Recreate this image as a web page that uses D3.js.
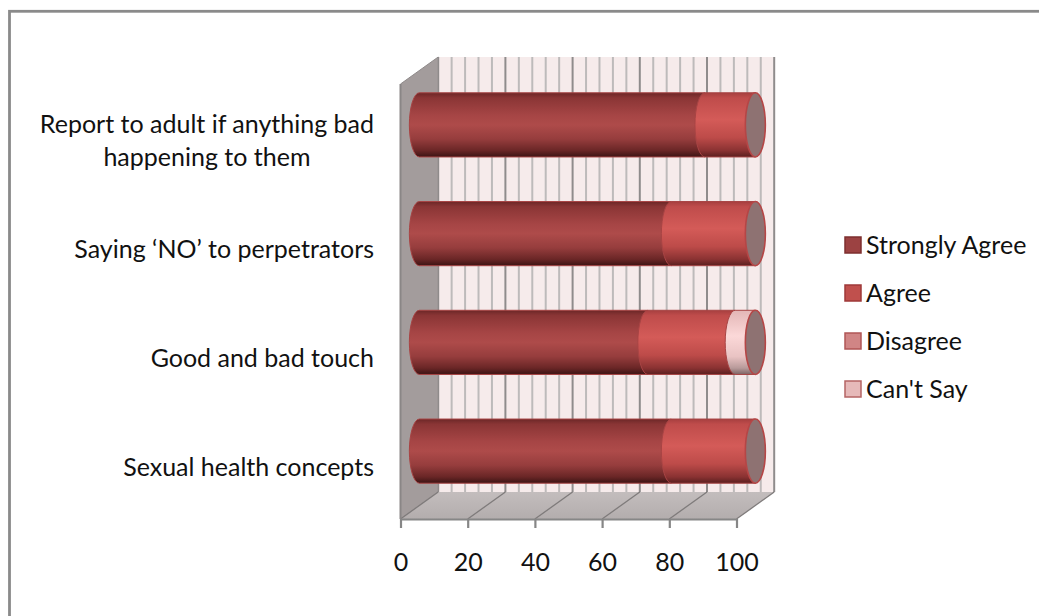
<!DOCTYPE html>
<html>
<head>
<meta charset="utf-8">
<script src="https://cdn.jsdelivr.net/npm/d3@7"></script>
<style>
  body { margin: 0; background: #fff; }
  svg { display: block; }
  text { font-family: Lato, "Open Sans", sans-serif; fill: #111; }
</style>
</head>
<body>
<svg id="chart" width="1039" height="616"></svg>
<script>
// Survey responses (percent of respondents) per topic
const categories = [
  "Report to adult if anything bad happening to them",
  "Saying ‘NO’ to perpetrators",
  "Good and bad touch",
  "Sexual health concepts"
];
const stronglyAgree = [85, 75, 68, 75];
const agree         = [15, 25, 26, 25];
const disagree      = [0, 0, 0, 0];
const cantSay       = [0, 0, 6, 0];
const seriesNames   = ["Strongly Agree", "Agree", "Disagree", "Can't Say"];
const tickValues    = [0, 20, 40, 60, 80, 100];

const series = [stronglyAgree, agree, disagree, cantSay];

// colour ramps for the cylinder sides (top edge -> bottom edge)
const sideStops = [
  [[0, "#6c2727"], [0.08, "#8a3535"], [0.35, "#a64545"], [0.5, "#ae4b4a"], [0.72, "#963d3d"], [0.9, "#6a2626"], [1, "#3c1414"]],
  [[0, "#a63f3f"], [0.08, "#bf4c4b"], [0.42, "#d45b58"], [0.7, "#bd4b49"], [0.9, "#8a3232"], [1, "#5a1f1f"]],
  [[0, "#c77c7c"], [0.4, "#e59c9c"], [0.75, "#c98080"], [1, "#7a4a4a"]],
  [[0, "#e3b6b6"], [0.4, "#fbd8d8"], [0.72, "#e9c3c3"], [0.9, "#b89a9a"], [1, "#7c6464"]]
];
const legendFill   = ["#9c4242", "#c0504d", "#d08585", "#e6b9b9"];
const legendStroke = ["#7e2f2f", "#9e3838", "#b05555", "#b56464"];

const svg = d3.select("#chart");
const defs = svg.append("defs");
sideStops.forEach((stops, i) => {
  const g = defs.append("linearGradient")
    .attr("id", "side" + i)
    .attr("x1", 0).attr("y1", 0).attr("x2", 0).attr("y2", 1);
  stops.forEach(([o, c]) => g.append("stop").attr("offset", o).attr("stop-color", c));
});
const floorGrad = defs.append("linearGradient")
  .attr("id", "floorGrad").attr("x1", 0).attr("y1", 0).attr("x2", 0).attr("y2", 1);
floorGrad.append("stop").attr("offset", 0).attr("stop-color", "#c3bdbd");
floorGrad.append("stop").attr("offset", 1).attr("stop-color", "#b3adad");

// outer frame
svg.append("rect")
  .attr("x", 9.5).attr("y", 11.3).attr("width", 1100).attr("height", 700)
  .attr("fill", "none").attr("stroke", "#8a8a8a").attr("stroke-width", 2.8);

// scales: front plane of the 3-D box, plus the depth offset of the back wall
const x = d3.scaleLinear().domain([0, 100]).range([400.5, 736.5]);
const y = d3.scaleBand().domain(categories).range([84, 519])
  .paddingInner(0.41).paddingOuter(0.205);
const depth = { dx: 37.7, dy: -27 };

const front = { x0: x(0), x1: x(100), y0: y.range()[0], y1: y.range()[1] };
const back  = { x0: front.x0 + depth.dx, x1: front.x1 + depth.dx,
                y0: front.y0 + depth.dy, y1: front.y1 + depth.dy };

// back wall
svg.append("rect")
  .attr("x", back.x0).attr("y", back.y0)
  .attr("width", back.x1 - back.x0).attr("height", back.y1 - back.y0)
  .attr("fill", "#f6ebeb");

// vertical gridlines on the back wall
const minorTicks = d3.range(0, 101, 4);
svg.append("g").selectAll("line.minor")
  .data(minorTicks.filter(v => v % 20 !== 0))
  .join("line")
  .attr("x1", d => x(d) + depth.dx).attr("x2", d => x(d) + depth.dx)
  .attr("y1", back.y0).attr("y2", back.y1)
  .attr("stroke", "#bdbaba").attr("stroke-width", 2);
svg.append("g").selectAll("line.major")
  .data(tickValues)
  .join("line")
  .attr("x1", d => x(d) + depth.dx).attr("x2", d => x(d) + depth.dx)
  .attr("y1", back.y0).attr("y2", back.y1)
  .attr("stroke", "#8f8c8c").attr("stroke-width", 2);

// left side wall
svg.append("polygon")
  .attr("points", [[front.x0, front.y0], [back.x0, back.y0], [back.x0, back.y1], [front.x0, front.y1]].join(" "))
  .attr("fill", "#a39c9c").attr("stroke", "#8f8a8a").attr("stroke-width", 1);

// floor
svg.append("polygon")
  .attr("points", [[front.x0, front.y1], [back.x0, back.y1], [back.x1, back.y1], [front.x1, front.y1]].join(" "))
  .attr("fill", "url(#floorGrad)");
svg.append("g").selectAll("line")
  .data(tickValues)
  .join("line")
  .attr("x1", d => x(d)).attr("y1", front.y1)
  .attr("x2", d => x(d) + depth.dx).attr("y2", back.y1)
  .attr("stroke", "#7f7b7b").attr("stroke-width", 1.3);

// front-left vertical edge of the box
svg.append("line")
  .attr("x1", front.x0).attr("x2", front.x0)
  .attr("y1", front.y0).attr("y2", front.y1)
  .attr("stroke", "#8a8686").attr("stroke-width", 2);

// value axis along the front edge of the floor
const axis = d3.axisBottom(x).tickValues(tickValues).tickSize(9).tickSizeOuter(0).tickPadding(25);
const gAxis = svg.append("g").attr("transform", `translate(0,${front.y1})`).call(axis);
gAxis.select(".domain").attr("stroke", "#868686").attr("stroke-width", 2.2);
gAxis.selectAll(".tick line").attr("stroke", "#868686").attr("stroke-width", 2.2);
gAxis.selectAll(".tick text")
  .attr("font-family", "Lato, 'Open Sans', sans-serif")
  .attr("font-size", 25).attr("fill", "#111");

// cylinders, placed midway between front and back planes
const mx = v => x(v) + depth.dx / 2;
const rx = 10;
const gBars = svg.append("g");
categories.forEach((cat, ci) => {
  const top = y(cat) + depth.dy / 2;
  const bot = top + y.bandwidth();
  const ry = (bot - top) / 2;
  let acc = 0;
  series.forEach((vals, si) => {
    const v = vals[ci];
    if (!v) return;
    const a = mx(acc), b = mx(acc + v);
    acc += v;
    const p = d3.path();
    p.moveTo(a, top);
    p.lineTo(b, top);
    p.lineTo(b, bot);
    p.lineTo(a, bot);
    gBars.append("path")
      .attr("d", p.toString() + ` A ${rx} ${ry} 0 0 1 ${a} ${top} Z`)
      .attr("fill", `url(#side${si})`)
      .attr("stroke", "#a84444").attr("stroke-width", 1)
      .attr("stroke-linejoin", "round");
  });
  // end cap
  gBars.append("ellipse")
    .attr("cx", mx(acc)).attr("cy", (top + bot) / 2)
    .attr("rx", rx).attr("ry", ry)
    .attr("fill", "#8e7272").attr("stroke", "#b54646").attr("stroke-width", 1.6);
});

// category labels, wrapped and right-aligned to the box
const labelRight = 374;
const maxLabelWidth = 345;
const gLabels = svg.append("g").attr("font-size", 25);
categories.forEach(cat => {
  const words = cat.split(" ");
  const lines = [];
  let line = [];
  const probe = gLabels.append("text");
  words.forEach(w => {
    const trial = line.concat(w).join(" ");
    probe.text(trial);
    if (probe.node().getComputedTextLength() > maxLabelWidth && line.length) {
      lines.push(line.join(" "));
      line = [w];
    } else {
      line.push(w);
    }
  });
  lines.push(line.join(" "));
  const widths = lines.map(l => { probe.text(l); return probe.node().getComputedTextLength(); });
  probe.remove();
  const blockW = d3.max(widths);
  const cx = labelRight - blockW / 2;
  const lh = 33;
  const cy = y(cat) + y.bandwidth() / 2 + 2;
  lines.forEach((l, i) => {
    gLabels.append("text")
      .attr("x", cx).attr("text-anchor", "middle")
      .attr("y", cy + (i - (lines.length - 1) / 2) * lh)
      .attr("dy", "0.36em")
      .text(l);
  });
});

// legend
const gLegend = svg.append("g").attr("font-size", 25);
seriesNames.forEach((name, i) => {
  const cy = 245 + i * 48;
  gLegend.append("rect")
    .attr("x", 845).attr("y", cy - 8).attr("width", 16).attr("height", 16)
    .attr("fill", legendFill[i]).attr("stroke", legendStroke[i]).attr("stroke-width", 1.5);
  gLegend.append("text")
    .attr("x", 866).attr("y", cy).attr("dy", "0.36em")
    .text(name);
});
</script>
</body>
</html>
